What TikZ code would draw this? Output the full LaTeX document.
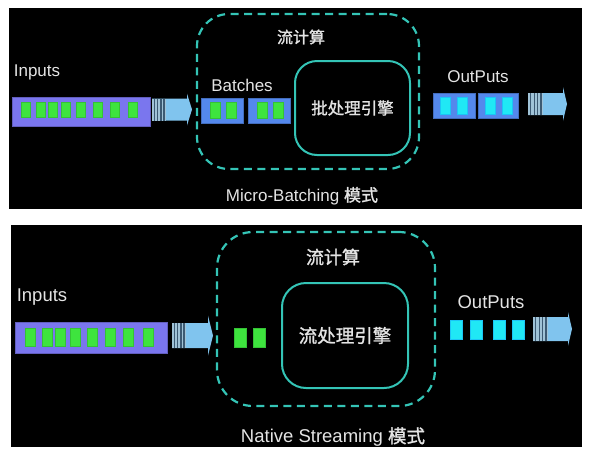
\documentclass[tikz,border=0pt]{standalone}
\usepackage{fontspec}
\setmainfont{Liberation Sans}
\newfontfamily\cjk[FakeBold=1.3]{Noto Sans CJK SC}
\usetikzlibrary{positioning, calc}

\definecolor{inputbar}{RGB}{122,118,238}
\definecolor{greencell}{RGB}{62,228,62}
\definecolor{batchblue}{RGB}{84,136,236}
\definecolor{cyancell}{RGB}{32,232,245}
\definecolor{arrowblue}{RGB}{128,196,238}
\definecolor{stripelight}{RGB}{160,195,215}
\definecolor{stripedark}{RGB}{60,90,115}
\definecolor{flowteal}{RGB}{52,196,182}
\definecolor{textgray}{RGB}{228,228,228}

\tikzset{
  box/.style={inner sep=0pt, outer sep=0pt},
  bar/.style={box, fill=inputbar, draw=inputbar!80!black, line width=0.6pt},
  batchbox/.style={box, fill=batchblue, draw=batchblue!80!black, line width=0.6pt},
  gcell/.style={box, fill=greencell, draw=greencell!85!black, line width=0.3pt},
  ccell/.style={box, fill=cyancell, draw=cyancell!85!blue, line width=0.3pt},
  flowbox/.style={box, draw=flowteal, line width=2.2pt, dash pattern=on 8pt off 5.5pt},
  engine/.style={box, draw=flowteal, line width=2pt, text=textgray},
  lbl/.style={text=textgray, inner sep=0pt},
}

% block arrow: x0 x1 x2 tip y halfbody halfhead
\newcommand{\speedarrow}[7]{%
  \fill[arrowblue] (#1,#5-#6) -- (#3,#5-#6) -- (#3,#5-#7) -- (#4,#5) -- (#3,#5+#7) -- (#3,#5+#6) -- (#1,#5+#6) -- cycle;
  \fill[stripelight] (#1,#5-#6) rectangle (#2,#5+#6);
  \foreach \k in {0.18,0.42,0.64,0.86}
    \draw[stripedark, line width=1.2pt] ({#1+\k*(#2-#1)},#5-#6) -- ++(0,2*#6);
}

\begin{document}
\begin{tikzpicture}[x=1pt, y=-1pt]
  \useasboundingbox (0,0) rectangle (590,459);
  \fill[white] (0,0) rectangle (590,459);
  \fill[black] (9,8) rectangle (582,209);
  \fill[black] (11,225) rectangle (582,447);

  % Micro-Batching
  \begin{scope}[every node/.append style={font=\fontsize{17}{20}\selectfont}]
    \node[lbl] (in1) at (37,72) {Inputs};
    \node[bar, minimum width=138, minimum height=29] (bar1) at (81,111.5) {};
    \foreach \x [count=\i] in {25.5,40.5,53,66,81,97.5,115,132.5}
      \node[gcell, minimum width=9, minimum height=15] (ic\i) at (\x,109.5) {};
    \speedarrow{152}{166}{187}{192}{109.5}{11}{16}

    \node[flowbox, minimum width=222, minimum height=155, rounded corners=32pt] (flow1) at (308,91.5) {};
    \node[lbl, font=\cjk\fontsize{16}{18}\selectfont] (ft1) at (301,37) {流计算};
    \node[lbl] (bt1) at (242,85) {Batches};
    \node[batchbox, minimum width=42, minimum height=25] (b1) at (222,110.5) {};
    \node[batchbox, minimum width=42, minimum height=25] (b2) at (269,110.5) {};
    \foreach \x [count=\i] in {215,231.5,262,278.5}
      \node[gcell, minimum width=10, minimum height=16] (bc\i) at (\x,110) {};
    \node[engine, minimum width=115, minimum height=94, rounded corners=22pt,
      font=\cjk\fontsize{16.5}{18}\selectfont] (eng1) at (352.5,108) {批处理引擎};
    \node[lbl] (mode1) at (302,196) {Micro-Batching {\cjk 模式}};

    \node[lbl] (out1) at (478,77) {OutPuts};
    \node[batchbox, minimum width=42, minimum height=25] (o1) at (454,105.5) {};
    \node[batchbox, minimum width=40, minimum height=25] (o2) at (498.5,105.5) {};
    \foreach \x [count=\i] in {445,462,490.5,507}
      \node[ccell, minimum width=10, minimum height=17] (oc\i) at (\x,105.5) {};
    \speedarrow{528}{543}{563}{567}{104}{11}{17}
  \end{scope}

  % Native Streaming
  \begin{scope}[every node/.append style={font=\fontsize{18.5}{22}\selectfont}]
    \node[lbl] (in2) at (42,297) {Inputs};
    \node[bar, minimum width=152, minimum height=31] (bar2) at (91,337.5) {};
    \foreach \x [count=\i] in {30,47,60.5,75,92,110,128.5,148.5}
      \node[gcell, minimum width=10, minimum height=18] (sc\i) at (\x,337) {};
    \speedarrow{172}{186}{208}{213}{335.5}{12.5}{20}

    \node[flowbox, minimum width=218, minimum height=174, rounded corners=36pt] (flow2) at (326,319) {};
    \node[lbl, font=\cjk\fontsize{18}{20}\selectfont] (ft2) at (333,257) {流计算};
    \node[gcell, minimum width=12, minimum height=19] (g1) at (240,337.5) {};
    \node[gcell, minimum width=12, minimum height=19] (g2) at (259,337.5) {};
    \node[engine, minimum width=126, minimum height=105, rounded corners=24pt,
      font=\cjk\fontsize{18.5}{20}\selectfont] (eng2) at (345,335.5) {流处理引擎};
    \node[lbl] (mode2) at (333,437) {Native Streaming {\cjk 模式}};

    \node[lbl] (out2) at (491,302) {OutPuts};
    \foreach \x [count=\i] in {456.5,476.5,499,518.5}
      \node[ccell, minimum width=12, minimum height=19] (oc\i) at (\x,329.5) {};
    \speedarrow{533}{548}{568}{572}{329}{12}{17}
  \end{scope}
\end{tikzpicture}
\end{document}
